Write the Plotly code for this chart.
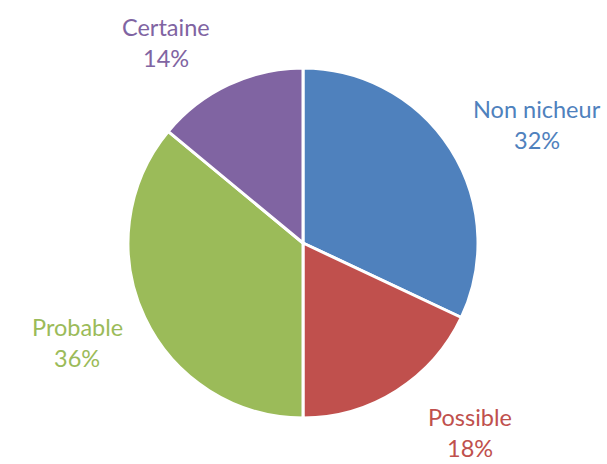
import plotly.graph_objects as go

labels = ["Non nicheur", "Possible", "Probable", "Certaine"]
values = [32, 18, 36, 14]
colors = ["#4F81BD", "#C0504D", "#9BBB59", "#8064A2"]

# label anchor points (pixels in 607x464 canvas) for each category: name line, pct line
label_px = [(537, 109), (470, 417), (77, 327), (166, 27)]
line_gap = 31

W, H = 607, 464
fig = go.Figure(go.Pie(
    labels=labels, values=values, sort=False, direction="clockwise", rotation=0,
    marker=dict(colors=colors, line=dict(color="white", width=3)),
    textinfo="none", hoverinfo="label+percent", showlegend=False,
    domain=dict(x=[(303 - 175) / W, (303 + 175) / W], y=[(221 - 175) / H, (221 + 175) / H]),
))

total = sum(values)
annotations = []
for lab, v, c, (px, py) in zip(labels, values, colors, label_px):
    pct = f"{round(100 * v / total)}%"
    for txt, yy in ((lab, py), (pct, py + line_gap)):
        annotations.append(dict(
            text=txt, x=px / W, y=1 - yy / H, xref="paper", yref="paper",
            xanchor="center", yanchor="middle", showarrow=False, borderpad=0,
            font=dict(family="Lato", size=23.5, color=c),
        ))

fig.update_layout(
    width=W, height=H, margin=dict(l=0, r=0, t=0, b=0),
    paper_bgcolor="white", plot_bgcolor="white", annotations=annotations,
)
fig.write_html("out.html")
